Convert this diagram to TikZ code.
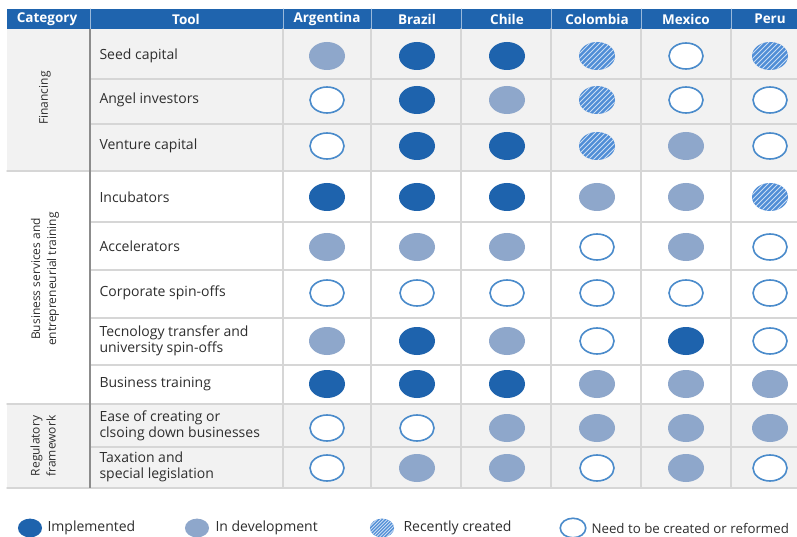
\documentclass[tikz,border=0pt]{standalone}
\usepackage{fontspec}
\setmainfont{Open Sans}

\definecolor{hdrblue}{HTML}{1F64AE}
\definecolor{implblue}{HTML}{1E63AD}
\definecolor{devblue}{HTML}{8EA7CB}
\definecolor{hatchblue}{HTML}{4F8DD6}
\definecolor{ringblue}{HTML}{4A8BCB}
\definecolor{gridgray}{HTML}{D6D6D6}
\definecolor{divgray}{HTML}{8C8C8C}
\definecolor{shadegray}{HTML}{F2F2F2}
\definecolor{txtgray}{HTML}{2E2E2E}

\tikzset{
  hdr/.style={text=white, font=\fontsize{13.5}{14}\selectfont\bfseries},
  tool/.style={anchor=west, align=left, text=txtgray, font=\fontsize{14}{15.5}\selectfont},
  cat/.style={rotate=90, align=center, text=txtgray, font=\fontsize{12}{16}\selectfont},
  legtxt/.style={anchor=west, text=txtgray, font=\fontsize{14}{15}\selectfont},
  grid/.style={gridgray, line width=1.4pt},
  % the four states
  stI/.pic={\fill[implblue] (0,0) ellipse (18 and 14);},
  stD/.pic={\fill[devblue] (0,0) ellipse (18 and 14);},
  stN/.pic={\draw[ringblue, line width=1.6pt, fill=white] (0,0) ellipse (17 and 13);},
  stH/.pic={
    \fill[hatchblue] (0,0) ellipse (18 and 14);
    \begin{scope}
      \clip (0,0) ellipse (18 and 14);
      \foreach \k in {-40,-35,...,40}
        \draw[white!70!hatchblue, line width=0.9pt] (\k-16,16) -- (\k+16,-16);
    \end{scope}
  }
}

\begin{document}
\begin{tikzpicture}[x=1pt, y=-1pt, line cap=round, line join=round]
  \clip (0,0) rectangle (797,537);
  \fill[white] (0,0) rectangle (797,537);

  %========================
  % backgrounds
  %========================
  \fill[shadegray] (7,29) rectangle (797,171);
  \fill[shadegray] (7,404) rectangle (797,488);
  \fill[hdrblue] (7,9) rectangle (797,29);

  % header separators
  \foreach \x in {90,283,371,461,551,641,731}
    \draw[white!55!hdrblue, line width=1pt] (\x,9) -- (\x,29);

  %========================
  % grid
  %========================
  % rows inside a category
  \foreach \y in {79,124,222,270,318,365,447}
    \draw[grid] (90,\y) -- (797,\y);
  % rows between categories
  \foreach \y in {171,404,488}
    \draw[grid] (7,\y) -- (797,\y);
  % columns
  \foreach \x in {283,371,461,551,641,731}
    \draw[grid] (\x,29) -- (\x,488);
  \draw[divgray, line width=2.4pt, line cap=butt] (90,29) -- (90,488);

  %========================
  % header
  %========================
  \node[hdr] (hcat) at (47,19) {Category};
  \node[hdr] (htool) at (186,19) {Tool};
  \node[hdr] (harg) at (327,19) {Argentina};
  \node[hdr] (hbra) at (417,19) {Brazil};
  \node[hdr] (hchi) at (507,19) {Chile};
  \node[hdr] (hcol) at (597,19) {Colombia};
  \node[hdr] (hmex) at (686,19) {Mexico};
  \node[hdr] (hper) at (770,19) {Peru};

  %========================
  % categories and tools
  %========================
  \node[cat] (cfin) at (45,98) {Financing};
  \node[cat] (cbus) at (45,279) {Business services and\\entrepreneurial training};
  \node[cat] (creg) at (43,446) {Regulatory\\framework};

  \node[tool] (seed) at (96,56) {Seed capital};
  \node[tool] (angel) at (96,100) {Angel investors};
  \node[tool] (vent) at (96,146) {Venture capital};
  \node[tool] (incub) at (96,197) {Incubators};
  \node[tool] (accel) at (96,246) {Accelerators};
  \node[tool] (corp) at (96,293) {Corporate spin-offs};
  \node[tool] (tech) at (96,341) {Tecnology transfer and\\university spin-offs};
  \node[tool] (btrain) at (96,384) {Business training};
  \node[tool] (ease) at (96,426) {Ease of creating or\\clsoing down businesses};
  \node[tool] (tax) at (96,467) {Taxation and\\special legislation};

  %========================
  % states per country
  %========================
  \foreach \y/\marks in {56/{D,I,I,H,N,H}, 100/{N,I,D,H,N,N}, 146/{N,I,I,H,D,N},
                         197/{I,I,I,D,D,H}, 247/{D,D,D,N,D,N}, 293/{N,N,N,N,N,N},
                         341/{D,I,D,N,I,N}, 384/{I,I,I,D,D,D},
                         428/{N,N,D,D,D,D}, 468/{N,D,D,N,D,N}}
    \foreach \m [count=\i] in \marks {
      \pgfmathsetmacro\cx{{327,417,507,597,686,770}[\i-1]}
      \pic at (\cx,\y) {st\m};
    }

  %========================
  % legend
  %========================
  \pic[scale=0.67] at (30,528) {stI};
  \node[legtxt] (limpl) at (44,528) {Implemented};
  \pic[scale=0.67] at (197,528) {stD};
  \node[legtxt] (ldev) at (212,528) {In development};
  \pic[scale=0.67] at (382,528) {stH};
  \node[legtxt] (lrec) at (400,528) {Recently created};
  \pic[scale=0.75] at (573,528) {stN};
  \node[legtxt, font=\fontsize{13.3}{15}\selectfont] (lneed) at (588,528) {Need to be created or reformed};
\end{tikzpicture}
\end{document}
